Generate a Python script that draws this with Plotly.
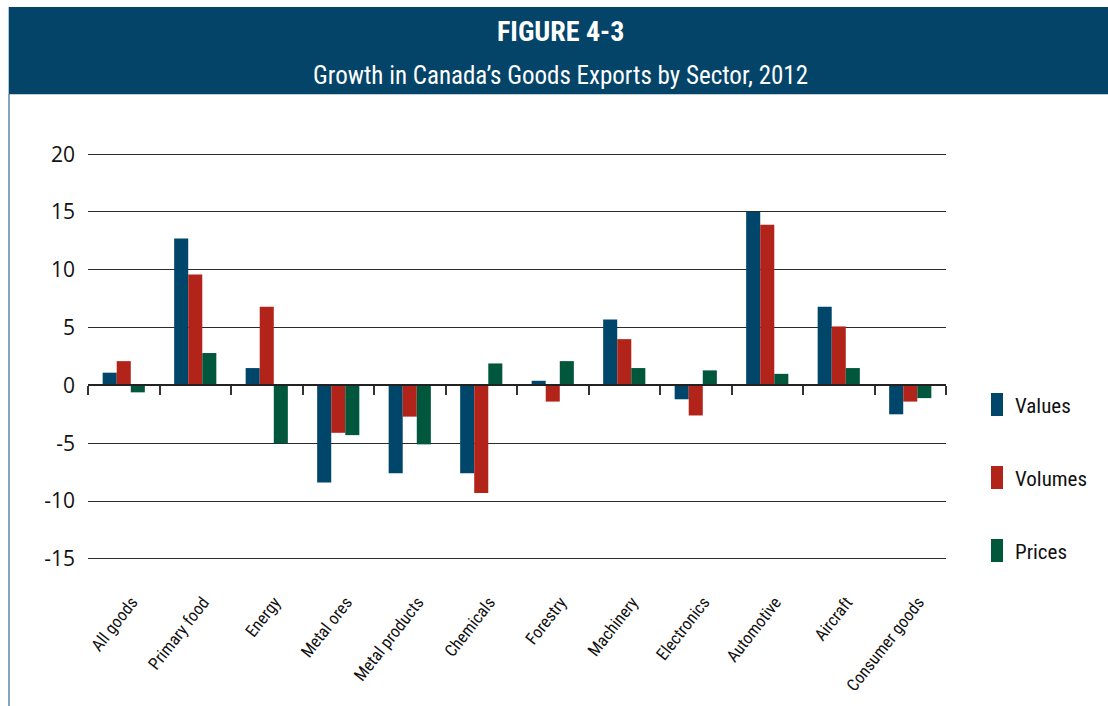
import plotly.graph_objects as go

# Sector categories and growth rates (%), 2012
sectors = ["All goods", "Primary food", "Energy", "Metal ores", "Metal products",
           "Chemicals", "Forestry", "Machinery", "Electronics", "Automotive",
           "Aircraft", "Consumer goods"]
values = [1.1, 12.7, 1.5, -8.4, -7.6, -7.6, 0.4, 5.7, -1.2, 15.0, 6.8, -2.5]
volumes = [2.1, 9.6, 6.8, -4.1, -2.7, -9.3, -1.4, 4.0, -2.6, 13.9, 5.1, -1.4]
prices = [-0.6, 2.8, -5.0, -4.3, -5.1, 1.9, 2.1, 1.5, 1.3, 1.0, 1.5, -1.1]

series_names = ["Values", "Volumes", "Prices"]
series_data = [values, volumes, prices]
series_colors = ["#00466b", "#b2231a", "#00573b"]

y_ticks = [20, 15, 10, 5, 0, -5, -10, -15]
y_min, y_max = -15.1, 20.1

W, H = 1108, 706
M_L, M_R, M_T, M_B = 88, 162, 153, 146
PLOT_W = W - M_L - M_R
PLOT_H = H - M_T - M_B


def px_x(p):
    return (p - M_L) / PLOT_W


def px_y(p):
    return (H - M_B - p) / PLOT_H


FONT = "Liberation Sans Narrow, Roboto Condensed, Arial Narrow, Roboto, sans-serif"
BAND = "#034468"

fig = go.Figure()
for name, data, color in zip(series_names, series_data, series_colors):
    fig.add_trace(go.Bar(x=sectors, y=data, name=name, marker_color=color,
                         marker_line_width=0, showlegend=False))

# carrier trace for the category axis drawn along the zero line
fig.add_trace(go.Scatter(x=sectors, y=[0] * len(sectors), xaxis="x2", mode="none",
                         showlegend=False, hoverinfo="skip"))

shapes = [
    # header band
    dict(type="rect", xref="paper", yref="paper", x0=px_x(8.7), x1=px_x(1115),
         y0=px_y(94.3), y1=px_y(7), fillcolor=BAND, line_width=0, layer="below"),
    # left frame rule
    dict(type="line", xref="paper", yref="paper", x0=px_x(9), x1=px_x(9),
         y0=px_y(94), y1=px_y(720), line=dict(color="#2f6d92", width=1.2)),
]
annotations = [
    dict(text="<b>FIGURE 4-3</b>", xref="paper", yref="paper", x=px_x(560), y=px_y(31),
         showarrow=False, font=dict(family=FONT, size=28, color="white"),
         xanchor="center", yanchor="middle"),
    dict(text="Growth in Canada’s Goods Exports by Sector, 2012", xref="paper", yref="paper",
         x=px_x(560), y=px_y(75), showarrow=False,
         font=dict(family=FONT, size=25, color="white"), xanchor="center", yanchor="middle"),
]

# legend with tall swatches
for i, (name, color) in enumerate(zip(series_names, series_colors)):
    top = 393 + 73 * i
    shapes.append(dict(type="rect", xref="paper", yref="paper", x0=px_x(991), x1=px_x(1003),
                       y0=px_y(top + 23), y1=px_y(top), fillcolor=color, line_width=0))
    annotations.append(dict(text=name, xref="paper", yref="paper", x=px_x(1013),
                            y=px_y(top + 13), showarrow=False, xanchor="left",
                            yanchor="middle", font=dict(family=FONT, size=21, color="#111")))

fig.update_layout(
    width=W, height=H,
    margin=dict(l=M_L, r=M_R, t=M_T, b=M_B),
    paper_bgcolor="white", plot_bgcolor="white",
    barmode="group", bargap=0.41, bargroupgap=0,
    font=dict(family=FONT, color="#111"),
    shapes=shapes, annotations=annotations,
    xaxis=dict(type="category", categoryorder="array", categoryarray=sectors,
               showgrid=False, showline=False, ticks="", tickangle=-52,
               ticklabelstandoff=28, ticklabelshift=8,
               tickfont=dict(family=FONT, size=17, color="#111")),
    xaxis2=dict(type="category", categoryorder="array", categoryarray=sectors,
                overlaying="x", matches="x", anchor="free",
                position=(0 - y_min) / (y_max - y_min),
                showgrid=False, showticklabels=False, showline=True,
                linecolor="#222", linewidth=1.5, ticks="outside", tickson="boundaries",
                ticklen=9, tickwidth=1.5, tickcolor="#333"),
    yaxis=dict(range=[y_min, y_max], tickvals=y_ticks, ticktext=[str(v) for v in y_ticks],
               showgrid=True, gridcolor="#2b2b2b", gridwidth=1.3, zeroline=False,
               showline=False, ticks="", ticklabelstandoff=12,
               tickfont=dict(family="Open Sans, sans-serif", size=21, color="#111")),
)

fig.write_html("out.html")
